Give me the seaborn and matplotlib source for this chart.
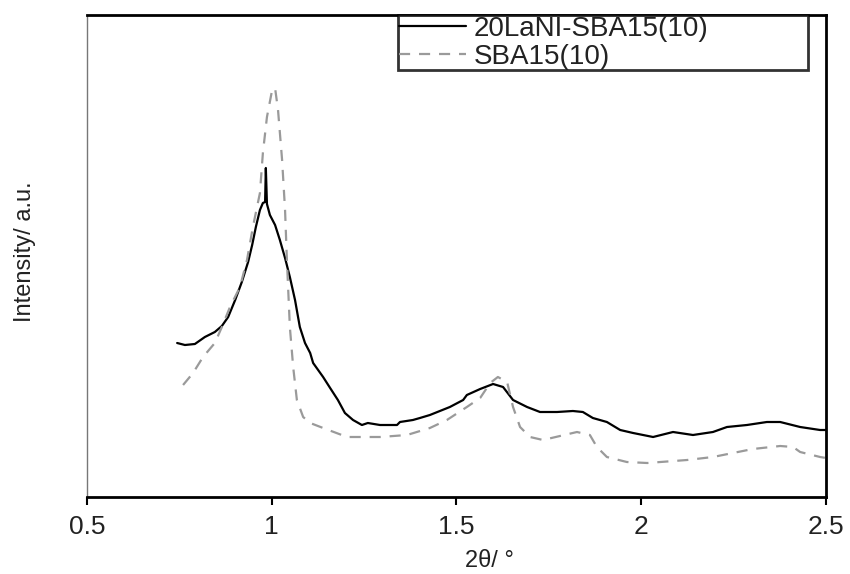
import matplotlib
matplotlib.use("Agg")
import matplotlib.pyplot as plt
import seaborn as sns
import pandas as pd

# 20LaNI-SBA15(10) (solid black)
x_lani = [0.744, 0.765, 0.792, 0.819, 0.846, 0.865, 0.882, 0.901, 0.919, 0.936,
          0.947, 0.957, 0.968, 0.976, 0.982, 0.984, 0.987, 0.995, 1.009, 1.022,
          1.036, 1.049, 1.063, 1.076, 1.090, 1.104, 1.112, 1.139, 1.158, 1.179,
          1.198, 1.220, 1.244, 1.260, 1.293, 1.339, 1.347, 1.382, 1.401, 1.428,
          1.482, 1.518, 1.528, 1.564, 1.599, 1.626, 1.653, 1.691, 1.726, 1.772,
          1.815, 1.842, 1.869, 1.907, 1.943, 1.978, 2.032, 2.086, 2.140, 2.194,
          2.232, 2.286, 2.340, 2.376, 2.430, 2.484, 2.500]
y_lani = [154, 152, 153, 160, 165, 171, 180, 197, 215, 235,
          252, 270, 287, 294, 295, 329, 293, 282, 272, 257,
          239, 220, 197, 170, 154, 144, 134, 120, 109, 97,
          84, 77, 72, 74, 72, 72, 75, 77, 79, 82,
          90, 97, 102, 108, 113, 110, 97, 90, 85, 85,
          86, 85, 79, 75, 67, 64, 60, 65, 62, 65,
          70, 72, 75, 75, 70, 67, 67]

# SBA15(10) (dashed grey)
x_sba = [0.760, 0.787, 0.814, 0.846, 0.865, 0.887, 0.914, 0.933, 0.949, 0.968,
         0.976, 0.987, 1.001, 1.009, 1.017, 1.028, 1.036, 1.041, 1.049, 1.058,
         1.068, 1.085, 1.104, 1.139, 1.204, 1.293, 1.366, 1.428, 1.474, 1.528,
         1.564, 1.591, 1.612, 1.637, 1.653, 1.672, 1.699, 1.734, 1.780, 1.826,
         1.861, 1.880, 1.907, 1.961, 2.016, 2.124, 2.194, 2.248, 2.302, 2.376,
         2.411, 2.430, 2.484, 2.500]
y_sba = [112, 124, 140, 154, 170, 190, 210, 237, 270, 304,
         344, 380, 407, 409, 387, 337, 287, 237, 170, 130,
         97, 80, 74, 69, 60, 60, 62, 69, 77, 90,
         99, 114, 120, 115, 90, 70, 60, 57, 61, 65,
         62, 50, 40, 35, 34, 37, 40, 44, 48, 51,
         50, 45, 40, 39]

labels = ["20LaNI-SBA15(10)", "SBA15(10)"]
xticks = [0.5, 1, 1.5, 2, 2.5]
xtick_labels = ["0.5", "1", "1.5", "2", "2.5"]

sns.set_theme(style="white")
plt.rcParams["font.family"] = ["Liberation Sans", "DejaVu Sans"]

df1 = pd.DataFrame({"x": x_lani, "y": y_lani})
df2 = pd.DataFrame({"x": x_sba, "y": y_sba})

fig = plt.figure(figsize=(8.5, 5.74), dpi=100)
ax = fig.add_axes([87/850, 1-497/574, (826-87)/850, (497-15)/574])

sns.lineplot(data=df1, x="x", y="y", ax=ax, color="black", lw=1.6,
             estimator=None, label=labels[0])
sns.lineplot(data=df2, x="x", y="y", ax=ax, color="#9a9a9a", lw=1.6,
             estimator=None, label=labels[1], linestyle=(0, (5, 4)))

ax.set_xlim(0.5, 2.5)
ax.set_ylim(0, 482)
ax.set_xticks(xticks)
ax.set_xticklabels(xtick_labels)
ax.set_yticks([])
ax.tick_params(axis="x", direction="out", length=6, width=1.5, colors="black",
               labelsize=19, pad=7, bottom=True)
for lab in ax.get_xticklabels():
    lab.set_color("#222222")

for side in ["top", "right", "bottom"]:
    ax.spines[side].set_visible(True)
    ax.spines[side].set_color("black")
    ax.spines[side].set_linewidth(2)
ax.spines["left"].set_color("#777777")
ax.spines["left"].set_linewidth(1.0)

ax.set_xlabel("")
ax.set_ylabel("")
fig.text(489/850, 1-561/574, "2θ/ °", ha="center", va="center", fontsize=17, color="#222222")
fig.text(25/850, 1-252/574, "Intensity/ a.u.", ha="center", va="center", rotation=90,
         fontsize=17, color="#222222")

leg = ax.legend(loc="upper left", bbox_to_anchor=(0.421, 0, 0.555, 1.0), mode="expand",
                borderaxespad=0, frameon=True, fancybox=False, fontsize=20,
                handlelength=2.4, handletextpad=0.3, labelspacing=0.06,
                borderpad=0.03)
leg.get_frame().set_edgecolor("black")
leg.get_frame().set_linewidth(2)
for t in leg.get_texts():
    t.set_color("#222222")

fig.savefig("out.png", dpi=100)
